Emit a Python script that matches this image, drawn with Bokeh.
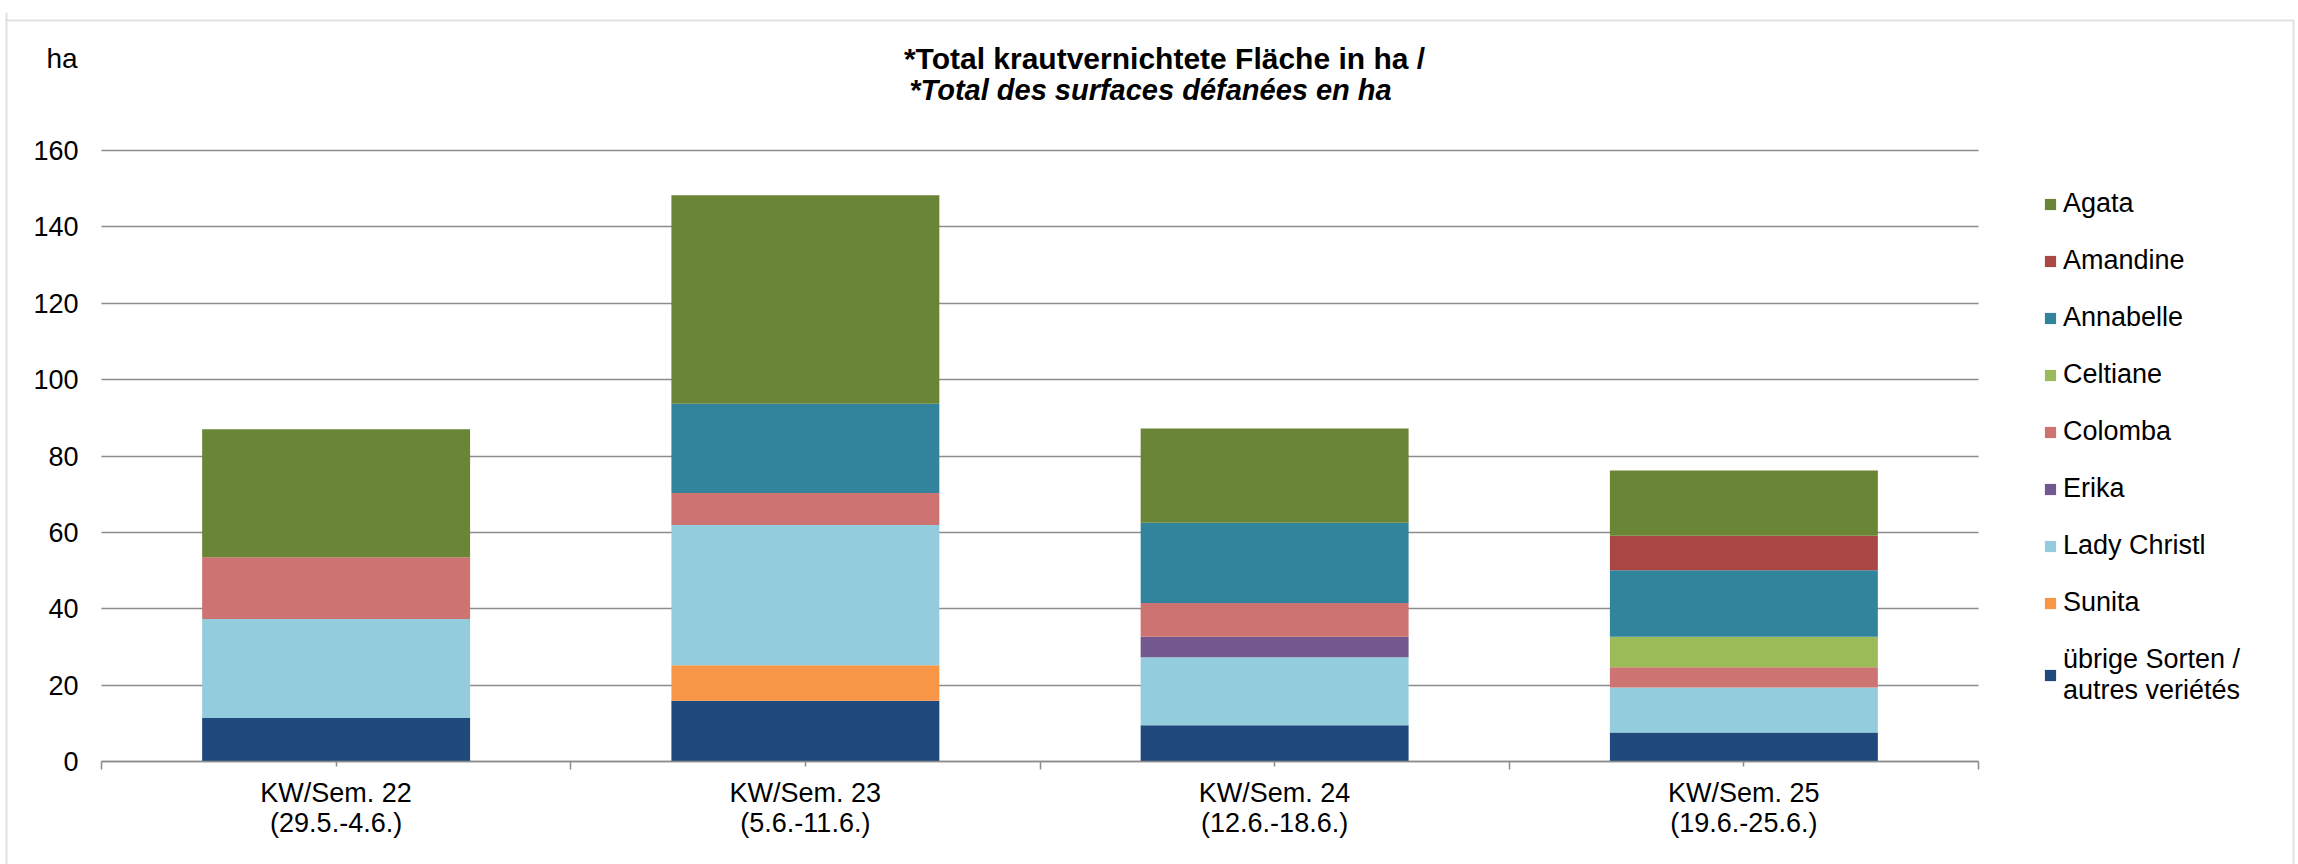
from bokeh.plotting import figure
from bokeh.models import (ColumnDataSource, FixedTicker, Legend, LegendItem, Label,
                          BoxAnnotation, Range1d)
from bokeh.embed import file_html
from bokeh.resources import INLINE

# ---- data ----
weeks = ["KW/Sem. 22\n(29.5.-4.6.)", "KW/Sem. 23\n(5.6.-11.6.)",
         "KW/Sem. 24\n(12.6.-18.6.)", "KW/Sem. 25\n(19.6.-25.6.)"]
series_keys = ["uebrige", "sunita", "lady", "erika", "colomba", "celtiane",
               "annabelle", "amandine", "agata"]
series_labels = ["übrige Sorten /\nautres veriétés", "Sunita", "Lady Christl", "Erika",
                 "Colomba", "Celtiane", "Annabelle", "Amandine", "Agata"]
uebrige = [11.4, 15.9, 9.5, 7.6]
sunita = [0.0, 9.3, 0.0, 0.0]
lady = [25.9, 36.7, 17.8, 11.8]
erika = [0.0, 0.0, 5.4, 0.0]
colomba = [16.2, 8.4, 8.8, 5.3]
celtiane = [0.0, 0.0, 0.0, 8.0]
annabelle = [0.0, 23.4, 21.0, 17.4]
amandine = [0.0, 0.0, 0.0, 9.0]
agata = [33.5, 54.6, 24.7, 17.1]
colors = ["#1F497D", "#F79646", "#93CDDD", "#72588F", "#CD7371", "#9BBB59",
          "#31849B", "#A94745", "#6A8535"]
y_ticks = [0, 20, 40, 60, 80, 100, 120, 140, 160]
title1 = "*Total krautvernichtete Fläche in ha /"
title2 = "*Total des surfaces défanées en  ha"
unit_label = "ha"

FONT = "Liberation Sans"
GRID = "#8c8c8c"
W, H = 2298, 864
# layout: pixel position of the plot area (category 0..4, value 0..160)
X0, X4 = 101.0, 1978.0
Y0, Y160 = 761.0, 150.0
PXX = (X4 - X0) / len(weeks)
PXY = (Y0 - Y160) / 160.0


def px2x(px):
    return (px - X0) / PXX


def px2y(py):
    return (Y0 - py) / PXY


xs = [i + 0.5 for i in range(len(weeks))]
source = ColumnDataSource(dict(x=xs, uebrige=uebrige, sunita=sunita, lady=lady, erika=erika,
                               colomba=colomba, celtiane=celtiane, annabelle=annabelle,
                               amandine=amandine, agata=agata))

p = figure(width=W, height=H, x_range=Range1d(px2x(0), px2x(W)),
           y_range=Range1d(px2y(H), px2y(0)),
           output_backend="svg", toolbar_location=None,
           min_border_left=0, min_border_right=0, min_border_top=0, min_border_bottom=0)
p.outline_line_color = None
p.background_fill_color = "white"
p.border_fill_color = "white"

# grid
p.xgrid.visible = False
grid_ok = True
try:
    p.ygrid.cross_bounds = (0, len(weeks))
except Exception:
    grid_ok = False
if grid_ok:
    p.ygrid.ticker = FixedTicker(ticks=y_ticks)
    p.ygrid.grid_line_color = GRID
    p.ygrid.grid_line_width = 1.5
else:
    p.ygrid.visible = False
    p.segment(x0=[0] * len(y_ticks), x1=[len(weeks)] * len(y_ticks), y0=y_ticks, y1=y_ticks,
              line_color=GRID, line_width=1.5)

renderers = p.vbar_stack(series_keys, x="x", width=0.571, color=colors, line_color=None,
                         source=source)

# y axis
p.yaxis.fixed_location = 0
p.yaxis.bounds = (0, 160)
p.yaxis.ticker = FixedTicker(ticks=y_ticks)
p.yaxis.axis_line_color = None
p.yaxis.major_tick_line_color = None
p.yaxis.minor_tick_line_color = None
p.yaxis.major_tick_out = 0
p.yaxis.major_tick_in = 0
p.yaxis.major_label_standoff = 23
p.yaxis.major_label_text_font = FONT
p.yaxis.major_label_text_font_size = "27px"
p.yaxis.major_label_text_color = "black"

# x axis
p.xaxis.fixed_location = 0
p.xaxis.bounds = (0, len(weeks))
p.xaxis.ticker = FixedTicker(ticks=xs, minor_ticks=list(range(len(weeks) + 1)))
p.xaxis.major_label_overrides = {x: w for x, w in zip(xs, weeks)}
p.xaxis.axis_line_color = GRID
p.xaxis.axis_line_width = 1.5
p.xaxis.major_tick_line_color = GRID
p.xaxis.major_tick_line_width = 1.5
p.xaxis.major_tick_out = 5
p.xaxis.major_tick_in = 0
p.xaxis.minor_tick_line_color = GRID
p.xaxis.minor_tick_line_width = 1.5
p.xaxis.minor_tick_out = 8
p.xaxis.minor_tick_in = 0
p.xaxis.major_label_standoff = 8
p.xaxis.major_label_text_font = FONT
p.xaxis.major_label_text_font_size = "27px"
p.xaxis.major_label_text_color = "black"
p.xaxis.major_label_text_line_height = 1.0

# titles
p.add_layout(Label(x=px2x(1164), y=px2y(58), text=title1, text_align="center",
                   text_baseline="middle", text_font=FONT, text_font_size="30px",
                   text_font_style="bold", text_color="black"))
p.add_layout(Label(x=px2x(1154), y=px2y(89), text=title2, text_align="center",
                   text_baseline="middle", text_font=FONT, text_font_size="29px",
                   text_font_style="bold italic", text_color="black"))
p.add_layout(Label(x=px2x(46), y=px2y(58), text=unit_label, text_align="left",
                   text_baseline="middle", text_font=FONT, text_font_size="28px",
                   text_color="black"))

# legend (reverse order, Agata on top)
items = [LegendItem(label=lab, renderers=[r]) for lab, r in zip(series_labels, renderers)][::-1]
legend = Legend(items=items, location=(2043, H - 706), orientation="vertical",
                glyph_width=14, glyph_height=14, label_standoff=6, spacing=26,
                padding=0, margin=0, border_line_color=None, background_fill_alpha=0,
                label_text_font=FONT, label_text_font_size="27px", label_text_color="black")
p.add_layout(legend, "center")

# chart-area border lines
p.add_layout(BoxAnnotation(left=px2x(6), right=px2x(2293), top=px2y(20), bottom=px2y(H + 50),
                           fill_alpha=0, line_color="#9a9a9a", line_width=2))
p.add_layout(BoxAnnotation(left=px2x(6), right=px2x(6), top=px2y(12), bottom=px2y(20),
                           fill_alpha=0, line_color="#9a9a9a", line_width=2))

open("out.html", "w").write(file_html(p, INLINE))
